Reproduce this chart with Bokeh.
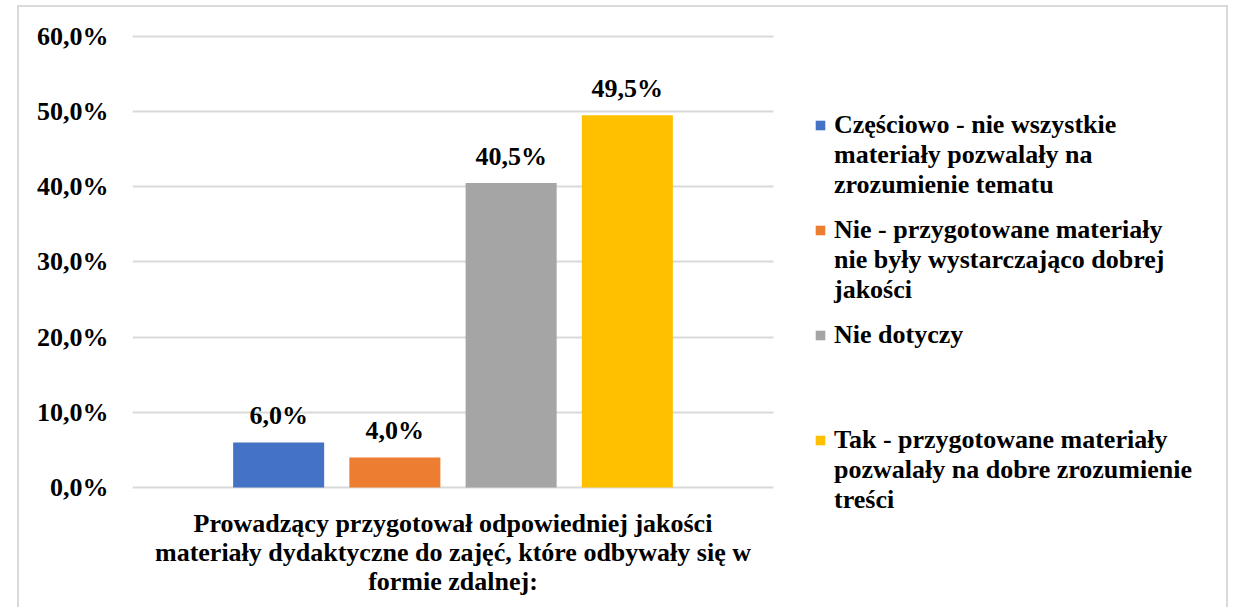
from bokeh.plotting import figure
from bokeh.models import (ColumnDataSource, LabelSet, Legend, LegendItem,
                          CustomJSTickFormatter, FixedTicker, Range1d, InlineStyleSheet)
from bokeh.embed import file_html
from bokeh.resources import INLINE

category = ("Prowadzący przygotował odpowiedniej jakości\n"
            "materiały dydaktyczne do zajęć, które odbywały się w\n"
            "formie zdalnej:")
series = [
    "Częściowo - nie wszystkie\nmateriały pozwalały na\nzrozumienie tematu",
    "Nie - przygotowane materiały\nnie były wystarczająco dobrej\njakości",
    "Nie dotyczy",
    "Tak - przygotowane materiały\npozwalały na dobre zrozumienie\ntreści",
]
values = [6.0, 4.0, 40.5, 49.5]
colors = ["#4472C4", "#ED7D31", "#A5A5A5", "#FFC000"]
y_ticks = [0, 10, 20, 30, 40, 50, 60]

FONT = "Liberation Serif"
FS = "26px"

W, H = 1236, 607
LEFT = 132
CAT_W = 641  # pixel width of the category slot
p = figure(x_range=Range1d(0, (W - LEFT) / CAT_W), y_range=Range1d(-4.65, 60.5),
           width=W, height=H, output_backend="svg", toolbar_location=None,
           min_border_left=LEFT, min_border_right=0, min_border_top=32,
           min_border_bottom=85)
p.outline_line_color = None
p.background_fill_color = "white"
p.border_fill_color = "white"

offsets = [-0.272, -0.0907, 0.0907, 0.272]
bar_renderers = []
for name, v, c, off in zip(series, values, colors, offsets):
    src = ColumnDataSource(dict(x=[0.5 + off], top=[v],
                                lab=[f"{v:.1f}".replace(".", ",") + "%"]))
    r = p.vbar(x="x", top="top", bottom=0, width=0.142, source=src,
               fill_color=c, line_color=None)
    bar_renderers.append(r)
    ls = LabelSet(x="x", y="top", text="lab", source=src,
                  text_align="center", text_baseline="alphabetic", y_offset=18,
                  text_font=FONT, text_font_style="bold", text_font_size=FS,
                  text_color="black")
    p.add_layout(ls)

p.yaxis.ticker = FixedTicker(ticks=y_ticks)
p.yaxis.formatter = CustomJSTickFormatter(code="return tick.toFixed(1).replace('.', ',') + '%';")
p.yaxis.axis_line_color = None
p.yaxis.major_tick_line_color = None
p.yaxis.minor_tick_line_color = None
p.yaxis.major_tick_out = 0
p.yaxis.major_tick_in = 0
p.yaxis.major_label_standoff = 24
p.yaxis.major_label_text_font = FONT
p.yaxis.major_label_text_font_style = "bold"
p.yaxis.major_label_text_font_size = FS
p.yaxis.major_label_text_color = "black"

p.xaxis.ticker = FixedTicker(ticks=[0.5])
p.xaxis.major_label_overrides = {0.5: category}
p.xaxis.axis_line_color = None
p.xaxis.major_tick_line_color = None
p.xaxis.minor_tick_line_color = None
p.xaxis.major_tick_out = 0
p.xaxis.major_tick_in = 0
p.xaxis.major_label_standoff = -14
p.xaxis.major_label_text_font = FONT
p.xaxis.major_label_text_font_style = "bold"
p.xaxis.major_label_text_font_size = FS
p.xaxis.major_label_text_color = "black"
p.xaxis.major_label_text_line_height = 1.0

p.xgrid.grid_line_color = None
p.ygrid.grid_line_color = "#d9d9d9"
p.ygrid.grid_line_width = 2
p.ygrid.cross_bounds = (0, 1)

# legend text (glyph hidden with zero width); every entry padded to three lines
def padded(label, lines=3):
    return label + "\n " * (lines - 1 - label.count("\n"))

legend_text = Legend(items=[LegendItem(label=padded(n), renderers=[r])
                            for n, r in zip(series, bar_renderers)],
                     location=(682, 7), orientation="vertical",
                     label_text_font=FONT, label_text_font_style="bold",
                     label_text_font_size=FS, label_text_color="black",
                     label_text_line_height=1.25,
                     glyph_width=0, glyph_height=12, label_standoff=20, spacing=15,
                     padding=0, margin=0, border_line_color=None,
                     background_fill_alpha=0, label_height=90)
p.add_layout(legend_text)

# legend swatches aligned with the first line of each entry
legend_sw = Legend(items=[LegendItem(label=" ", renderers=[r]) for r in bar_renderers],
                   location=(682, 76), orientation="vertical",
                   label_text_font=FONT, label_text_font_size=FS,
                   glyph_width=12, glyph_height=12, label_standoff=0, spacing=93,
                   padding=0, margin=0, border_line_color=None,
                   background_fill_alpha=0, label_height=12, label_width=0)
p.add_layout(legend_sw)

p.stylesheets = [InlineStyleSheet(css=""":host::after {
  content: ''; position: absolute; left: 17px; top: 5px; width: 1211px; height: 640px;
  border: 2px solid #d9d9d9; pointer-events: none; box-sizing: border-box;
}""")]

open("out.html", "w").write(file_html(p, INLINE))
